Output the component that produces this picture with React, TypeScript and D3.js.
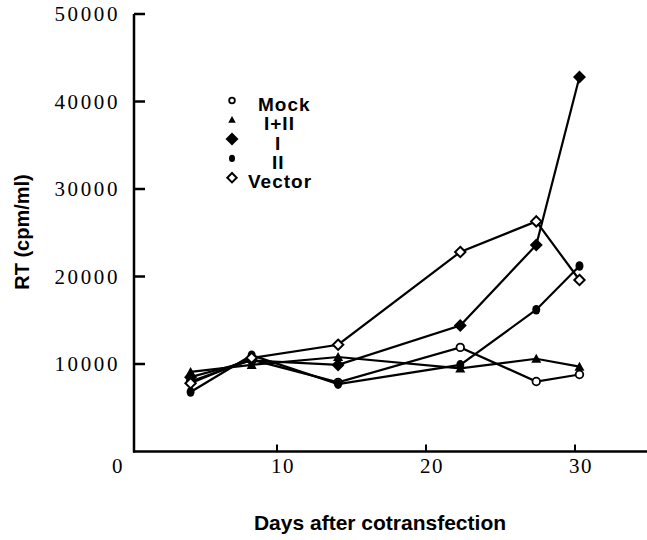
import React from "react";
import * as d3 from "d3";

const days = [4.2, 8.3, 14.1, 22.3, 27.4, 30.3];
const mock = [8000, 10500, 7900, 11900, 8000, 8800];
const iPlusII = [9100, 9900, 10800, 9500, 10600, 9700];
const seriesI = [8500, 10400, 9900, 14400, 23600, 42800];
const seriesII = [6800, 11000, 7700, 9900, 16200, 21200];
const vector = [7800, 10700, 12200, 22800, 26300, 19600];

const seriesNames = ["Mock", "I+II", "I", "II", "Vector"];
const seriesValues = [mock, iPlusII, seriesI, seriesII, vector];
const symbolKinds = ["openCircle", "triangle", "filledDiamond", "filledCircle", "openDiamond"];

const yTicks = [10000, 20000, 30000, 40000, 50000];
const yTickLabels = ["10000", "20000", "30000", "40000", "50000"];
const xTicks = [0, 10, 20, 30];
const xTickLabels = ["0", "10", "20", "30"];

const W = 647;
const H = 540;

function Marker({ kind, x, y, legend }: { kind: string; x: number; y: number; legend?: boolean }) {
  const s = legend ? 0.75 : 1;
  if (kind === "openCircle") {
    return <circle cx={x} cy={y} r={3.8 * s} fill="#fff" stroke="#000" strokeWidth={1.8} />;
  }
  if (kind === "filledCircle") {
    return <ellipse cx={x} cy={y} rx={4 * s} ry={4.8 * s} fill="#000" />;
  }
  if (kind === "triangle") {
    const a = 5 * s;
    return <path d={`M${x},${y - a}L${x + a},${y + a * 0.8}L${x - a},${y + a * 0.8}Z`} fill="#000" />;
  }
  if (kind === "filledDiamond") {
    const a = 6.5;
    return <path d={`M${x},${y - a}L${x + a},${y}L${x},${y + a}L${x - a},${y}Z`} fill="#000" />;
  }
  const a = 5.2 * (legend ? 0.9 : 1);
  return <path d={`M${x},${y - a}L${x + a},${y}L${x},${y + a}L${x - a},${y}Z`} fill="#fff" stroke="#000" strokeWidth={2} />;
}

export default function App() {
  const x = d3.scaleLinear().domain([0, 35]).range([128, 128 + 14.9 * 35]);
  const y = d3.scaleLinear().domain([0, 50000]).range([451.5, 14]);
  const axisX = 134;
  const line = d3
    .line<[number, number]>()
    .x((d) => x(d[0]))
    .y((d) => y(d[1]));

  const legendX = 232;
  const legendY0 = 104.5;
  const legendDy = 19.3;
  const legendTextX = [258, 264, 275, 272, 248];

  return (
    <svg width={W} height={H} style={{ position: "absolute", left: 0, top: 0, background: "#fff" }}>
      <rect x={0} y={0} width={W} height={H} fill="#fff" />
      {/* y axis */}
      <line x1={axisX} x2={axisX} y1={y(50000)} y2={y(0) + 1} stroke="#000" strokeWidth={2.5} />
      {yTicks.map((t, i) => (
        <g key={t}>
          <line x1={axisX} x2={axisX + 11} y1={y(t)} y2={y(t)} stroke="#000" strokeWidth={2.5} />
          <text
            x={120}
            y={y(t) + 7}
            textAnchor="end"
            fontFamily="Liberation Serif, serif"
            fontSize={21}
            letterSpacing={2.6}
          >
            {yTickLabels[i]}
          </text>
        </g>
      ))}
      {/* x axis */}
      <line x1={axisX - 1} x2={W} y1={y(0)} y2={y(0)} stroke="#000" strokeWidth={2.5} />
      {xTicks.map((t, i) => (
        <g key={t}>
          {t > 0 && <line x1={x(t)} x2={x(t)} y1={y(0)} y2={y(0) - 7} stroke="#000" strokeWidth={2} />}
          <text
            x={t === 0 ? 118 : x(t) + 6}
            y={y(0) + 21}
            textAnchor="middle"
            fontFamily="Liberation Serif, serif"
            fontSize={21}
            letterSpacing={1.5}
          >
            {xTickLabels[i]}
          </text>
        </g>
      ))}
      {/* series */}
      {seriesValues.map((vals, si) => (
        <path
          key={"l" + si}
          d={line(days.map((d, i) => [d, vals[i]] as [number, number])) || ""}
          fill="none"
          stroke="#000"
          strokeWidth={2.2}
        />
      ))}
      {seriesValues.map((vals, si) =>
        days.map((d, i) => <Marker key={`m${si}-${i}`} kind={symbolKinds[si]} x={x(d)} y={y(vals[i])} />)
      )}
      {/* legend */}
      {seriesNames.map((n, i) => (
        <g key={n}>
          <Marker kind={symbolKinds[i]} x={legendX} y={legendY0 + i * legendDy - 4} legend />
          <text
            x={legendTextX[i]}
            y={legendY0 + i * legendDy + 6.5}
            fontFamily="Liberation Sans, Arial, sans-serif"
            fontWeight="bold"
            fontSize={19}
            letterSpacing={1}
          >
            {n}
          </text>
        </g>
      ))}
      {/* axis titles */}
      <text
        x={380}
        y={530}
        textAnchor="middle"
        fontFamily="Liberation Sans, Arial, sans-serif"
        fontWeight="bold"
        fontSize={21}
      >
        Days after cotransfection
      </text>
      <text
        transform={`translate(29,232) rotate(-90)`}
        textAnchor="middle"
        fontFamily="Liberation Sans, Arial, sans-serif"
        fontWeight="bold"
        fontSize={20}
      >
        RT (cpm/ml)
      </text>
    </svg>
  );
}
